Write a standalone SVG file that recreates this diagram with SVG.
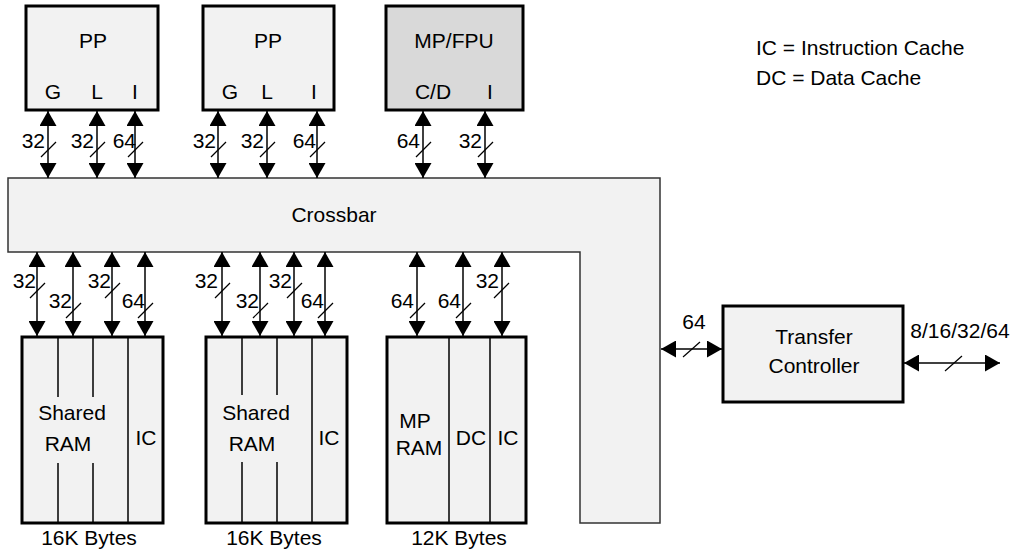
<svg xmlns="http://www.w3.org/2000/svg" width="1019" height="554" viewBox="0 0 1019 554">
<style>
text{font-family:"Liberation Sans",Arial,sans-serif;font-size:21px;fill:#000}
.m{text-anchor:middle}
.e{text-anchor:end}
.box{fill:#f2f2f2;stroke:#000;stroke-width:3}
.dark{fill:#d9d9d9}
.div{stroke:#000;stroke-width:1.5;fill:none}
.bus{stroke:#000;stroke-width:1.5;fill:none;marker-start:url(#ah);marker-end:url(#ah)}
.sl{stroke:#000;stroke-width:1.2}
</style>
<defs>
<marker id="ah" markerUnits="userSpaceOnUse" markerWidth="16" markerHeight="17" refX="15" refY="8.5" orient="auto-start-reverse" viewBox="0 0 16 17">
<path d="M0,0 L15,8.5 L0,17 z" fill="#000"/>
</marker>
</defs>
<g id="crossbar">
<polygon points="8,178 660,178 660,523 580,523 580,252 8,252" fill="#f2f2f2" stroke="#333" stroke-width="1.5"/>
<text class="m" x="334" y="222">Crossbar</text>
</g>
<g id="pp1">
<rect class="box" x="26" y="6" width="132" height="104"/>
<text class="m" x="93" y="48">PP</text>
<text class="m" x="53" y="99">G</text>
<text class="m" x="97" y="99">L</text>
<text class="m" x="135" y="99">I</text>
</g>
<g id="pp2">
<rect class="box" x="203" y="6" width="131" height="104"/>
<text class="m" x="268" y="48">PP</text>
<text class="m" x="230" y="99">G</text>
<text class="m" x="267" y="99">L</text>
<text class="m" x="314" y="99">I</text>
</g>
<g id="mpfpu">
<rect class="box dark" x="386" y="6" width="137" height="104"/>
<text class="m" x="454" y="48">MP/FPU</text>
<text class="m" x="433" y="99">C/D</text>
<text class="m" x="490" y="99">I</text>
</g>
<g id="legend">
<text x="756" y="55">IC = Instruction Cache</text>
<text x="756" y="85">DC = Data Cache</text>
</g>
<g id="ram1">
<rect class="box" x="22" y="337" width="141" height="186"/>
<line class="div" x1="58" y1="337" x2="58" y2="397"/>
<line class="div" x1="58" y1="463" x2="58" y2="523"/>
<line class="div" x1="93" y1="337" x2="93" y2="397"/>
<line class="div" x1="93" y1="463" x2="93" y2="523"/>
<line class="div" x1="128" y1="337" x2="128" y2="523"/>
<text class="m" x="72" y="420">Shared</text>
<text class="m" x="68" y="451">RAM</text>
<text class="m" x="146" y="445">IC</text>
<text class="m" x="89" y="545">16K Bytes</text>
</g>
<g id="ram2">
<rect class="box" x="206" y="337" width="141" height="186"/>
<line class="div" x1="242" y1="337" x2="242" y2="395"/>
<line class="div" x1="242" y1="462" x2="242" y2="523"/>
<line class="div" x1="277" y1="337" x2="277" y2="395"/>
<line class="div" x1="277" y1="462" x2="277" y2="523"/>
<line class="div" x1="312" y1="337" x2="312" y2="523"/>
<text class="m" x="256" y="420">Shared</text>
<text class="m" x="252" y="451">RAM</text>
<text class="m" x="329" y="445">IC</text>
<text class="m" x="274" y="545">16K Bytes</text>
</g>
<g id="ram3">
<rect class="box" x="387" y="337" width="139" height="186"/>
<line class="div" x1="449" y1="337" x2="449" y2="523"/>
<line class="div" x1="490" y1="337" x2="490" y2="523"/>
<text class="m" x="415" y="428">MP</text>
<text class="m" x="419" y="455">RAM</text>
<text class="m" x="471" y="445">DC</text>
<text class="m" x="508" y="445">IC</text>
<text class="m" x="459" y="545">12K Bytes</text>
</g>
<g id="tc">
<rect class="box" x="723" y="306" width="180" height="96"/>
<text class="m" x="814" y="344">Transfer</text>
<text class="m" x="814" y="373">Controller</text>
</g>
<g id="connectors">
<line class="bus" x1="48" y1="111" x2="48" y2="178"/>
<line class="bus" x1="97" y1="111" x2="97" y2="178"/>
<line class="bus" x1="135" y1="111" x2="135" y2="178"/>
<line class="bus" x1="218" y1="111" x2="218" y2="178"/>
<line class="bus" x1="267" y1="111" x2="267" y2="178"/>
<line class="bus" x1="317" y1="111" x2="317" y2="178"/>
<line class="bus" x1="423" y1="111" x2="423" y2="178"/>
<line class="bus" x1="485" y1="111" x2="485" y2="178"/>
<line class="bus" x1="37" y1="252" x2="37" y2="336"/>
<line class="bus" x1="73" y1="252" x2="73" y2="336"/>
<line class="bus" x1="112" y1="252" x2="112" y2="336"/>
<line class="bus" x1="145" y1="252" x2="145" y2="336"/>
<line class="bus" x1="222" y1="252" x2="222" y2="336"/>
<line class="bus" x1="260" y1="252" x2="260" y2="336"/>
<line class="bus" x1="294" y1="252" x2="294" y2="336"/>
<line class="bus" x1="325" y1="252" x2="325" y2="336"/>
<line class="bus" x1="417" y1="252" x2="417" y2="336"/>
<line class="bus" x1="463" y1="252" x2="463" y2="336"/>
<line class="bus" x1="502" y1="252" x2="502" y2="336"/>
<line class="bus" x1="661" y1="349" x2="722" y2="349"/>
<line class="bus" x1="904" y1="363" x2="1000" y2="363"/>
<g id="slashes">
<line class="sl" x1="41" y1="157" x2="56" y2="142"/>
<line class="sl" x1="90" y1="157" x2="105" y2="142"/>
<line class="sl" x1="128" y1="157" x2="143" y2="142"/>
<line class="sl" x1="211" y1="157" x2="226" y2="142"/>
<line class="sl" x1="260" y1="157" x2="275" y2="142"/>
<line class="sl" x1="310" y1="157" x2="325" y2="142"/>
<line class="sl" x1="416" y1="157" x2="431" y2="142"/>
<line class="sl" x1="478" y1="157" x2="493" y2="142"/>
<line class="sl" x1="30" y1="298" x2="45" y2="283"/>
<line class="sl" x1="66" y1="318" x2="81" y2="303"/>
<line class="sl" x1="105" y1="298" x2="120" y2="283"/>
<line class="sl" x1="138" y1="318" x2="153" y2="303"/>
<line class="sl" x1="215" y1="298" x2="230" y2="283"/>
<line class="sl" x1="253" y1="318" x2="268" y2="303"/>
<line class="sl" x1="287" y1="298" x2="302" y2="283"/>
<line class="sl" x1="318" y1="318" x2="333" y2="303"/>
<line class="sl" x1="410" y1="318" x2="425" y2="303"/>
<line class="sl" x1="456" y1="318" x2="471" y2="303"/>
<line class="sl" x1="494" y1="298" x2="509" y2="283"/>
<line class="sl" x1="683" y1="357" x2="700" y2="342"/>
<line class="sl" x1="945" y1="371" x2="962" y2="356"/>
</g>
<g id="labels">
<text class="e" x="45" y="148">32</text>
<text class="e" x="94" y="148">32</text>
<text class="e" x="136" y="148">64</text>
<text class="e" x="216" y="148">32</text>
<text class="e" x="264" y="148">32</text>
<text class="e" x="316" y="148">64</text>
<text class="e" x="420" y="148">64</text>
<text class="e" x="482" y="148">32</text>
<text class="e" x="36" y="288">32</text>
<text class="e" x="72" y="308">32</text>
<text class="e" x="111" y="288">32</text>
<text class="e" x="145" y="308">64</text>
<text class="e" x="218" y="288">32</text>
<text class="e" x="259" y="308">32</text>
<text class="e" x="292" y="288">32</text>
<text class="e" x="324" y="308">64</text>
<text class="e" x="414" y="308">64</text>
<text class="e" x="461" y="308">64</text>
<text class="e" x="499" y="288">32</text>
<text class="m" x="694" y="329">64</text>
<text class="m" x="960" y="338">8/16/32/64</text>
</g>
</g>
</svg>
